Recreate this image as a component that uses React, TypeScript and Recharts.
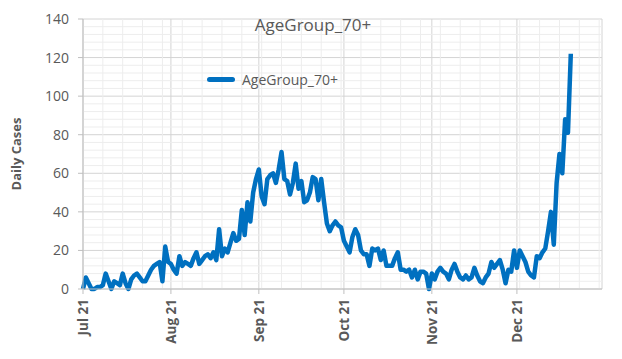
import React from "react";
import { LineChart, Line, XAxis, YAxis, CartesianGrid, Label, ReferenceLine } from "recharts";

const seriesName = "AgeGroup_70+";
const startDate = "2021-07-01";

// Daily cases, one value per day starting 1 Jul 2021
const dailyCases: number[] = [
  // Jul
  0, 6, 3, 0, 0, 1, 1, 2, 8, 4, 0, 4, 3, 2, 8, 3, 0, 5, 7, 8, 6, 4, 4, 7, 10, 12, 13, 14, 4, 22, 14,
  // Aug
  13, 10, 8, 17, 12, 14, 13, 12, 16, 19, 13, 15, 17, 18, 16, 19, 15, 31, 17, 21, 19, 24, 29, 25, 26, 41, 28, 45, 35, 50, 57,
  // Sep
  62, 48, 44, 57, 59, 60, 55, 62, 71, 57, 56, 49, 55, 65, 52, 56, 45, 46, 50, 58, 57, 46, 57, 45, 34, 30, 33, 35, 33, 32,
  // Oct
  25, 22, 19, 27, 31, 28, 20, 18, 18, 12, 21, 20, 21, 15, 20, 12, 12, 12, 16, 19, 10, 10, 9, 10, 6, 10, 5, 9, 9, 8, 0,
  // Nov
  8, 5, 9, 11, 9, 8, 5, 10, 13, 9, 6, 5, 7, 5, 6, 11, 7, 4, 3, 6, 8, 14, 11, 13, 15, 10, 3, 10, 9, 20,
  // Dec
  11, 20, 17, 14, 9, 7, 6, 17, 16, 19, 21, 30, 40, 23, 55, 70, 60, 88, 81, 122,
];

const monthTickDays: number[] = [0, 31, 62, 92, 123, 153];
const monthTickLabels: string[] = ["Jul 21", "Aug 21", "Sep 21", "Oct 21", "Nov 21", "Dec 21"];
const weekTickDays: number[] = Array.from({ length: 27 }, (_, i) => i * 7).filter((d) => d > 0);
const xDomainDays: [number, number] = [0, 183];

const yTicks: number[] = [0, 20, 40, 60, 80, 100, 120, 140];
const yMinorTicks: number[] = Array.from({ length: 36 }, (_, i) => i * 4).filter((v) => v % 20 !== 0);

const data = dailyCases.map((cases, day) => ({ day, cases }));

const FONT = "'Open Sans', 'DejaVu Sans', sans-serif";
const TEXT = "#595959";
const BLUE = "#0070C0";
const MINOR = "#ededed";

const XTick = (props: any) => {
  const { x, y, payload } = props;
  const idx = monthTickDays.indexOf(payload.value);
  const label = idx >= 0 ? monthTickLabels[idx] : "";
  return (
    <g transform={`translate(${x},${y})`}>
      <text
        x={0}
        y={0}
        dy="0.35em"
        textAnchor="end"
        transform="rotate(-90)"
        fill={TEXT}
        fontFamily={FONT}
        fontSize={13.5}
        fontWeight="bold"
      >
        {label}
      </text>
    </g>
  );
};

export default function App() {
  return (
    <div style={{ position: "absolute", left: 0, top: 0, width: 622, height: 359, background: "#fff" }}>
      <LineChart width={622} height={359} data={data} margin={{ top: 19, right: 20, bottom: 0, left: 0 }}>
        {weekTickDays.map((d) => (
          <ReferenceLine key={`vx${d}`} x={d} stroke={MINOR} strokeWidth={1} />
        ))}
        {yMinorTicks.map((v) => (
          <ReferenceLine key={`hy${v}`} y={v} stroke={MINOR} strokeWidth={1} />
        ))}
        <CartesianGrid stroke="#d4d4d4" strokeWidth={1} />
        <XAxis
          dataKey="day"
          type="number"
          domain={xDomainDays}
          ticks={monthTickDays}
          interval={0}
          height={70}
          tickSize={5}
          tickMargin={5}
          axisLine={{ stroke: "#bfbfbf" }}
          tickLine={{ stroke: "#bfbfbf" }}
          tick={<XTick />}
        />
        <YAxis
          type="number"
          domain={[0, 140]}
          ticks={yTicks}
          interval={0}
          width={83}
          tickSize={5}
          tickMargin={9}
          axisLine={{ stroke: "#bfbfbf" }}
          tickLine={{ stroke: "#bfbfbf" }}
          tick={{ fill: TEXT, fontSize: 14, fontFamily: FONT }}
        >
          <Label
            value="Daily Cases"
            angle={-90}
            position="insideLeft"
            offset={16}
            style={{ textAnchor: "middle", fill: TEXT, fontSize: 13, fontWeight: "bold", fontFamily: FONT }}
          />
        </YAxis>
        <Line
          type="linear"
          dataKey="cases"
          name={seriesName}
          stroke={BLUE}
          strokeWidth={4.5}
          dot={false}
          activeDot={false}
          isAnimationActive={false}
          strokeLinejoin="round"
        />
      </LineChart>
      <div
        style={{
          position: "absolute",
          left: 0,
          width: 626,
          top: 13,
          textAlign: "center",
          fontFamily: FONT,
          fontSize: 17,
          color: TEXT,
          pointerEvents: "none",
        }}
      >
        {seriesName}
      </div>
      <div
        style={{
          position: "absolute",
          left: 207,
          top: 70,
          display: "flex",
          alignItems: "center",
          fontFamily: FONT,
          fontSize: 14,
          color: TEXT,
          pointerEvents: "none",
        }}
      >
        <span
          style={{ display: "inline-block", width: 28, height: 5, borderRadius: 2.5, background: BLUE, marginRight: 7 }}
        />
        <span>{seriesName}</span>
      </div>
    </div>
  );
}
